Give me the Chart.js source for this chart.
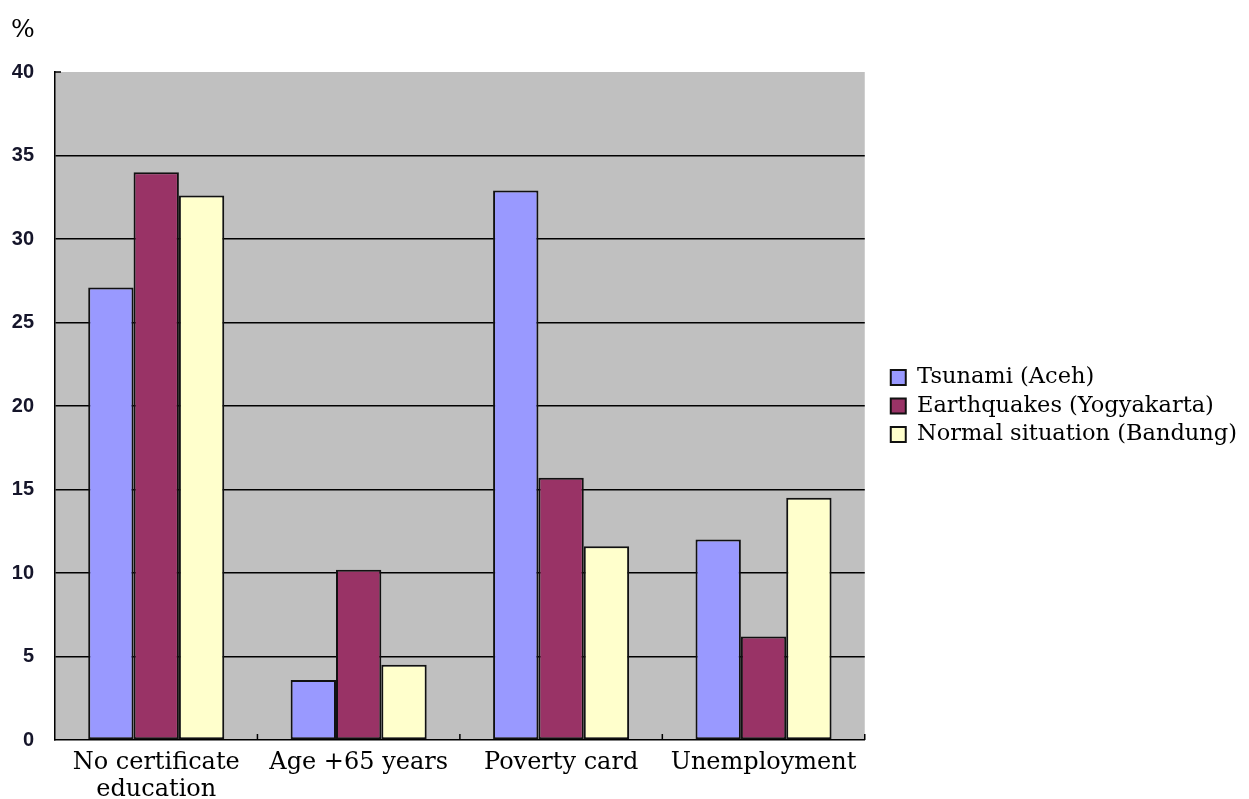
<!DOCTYPE html>
<html>
<head>
<meta charset="utf-8">
<title>Vulnerability indicators</title>
<script src="https://cdn.jsdelivr.net/npm/chart.js@4.4.1/dist/chart.umd.min.js"></script>
<style>
  html, body { margin: 0; padding: 0; background: #ffffff; }
  #wrap { width: 1249px; height: 799px; position: relative; }
</style>
</head>
<body>
<div id="wrap"><canvas id="chart"></canvas></div>
<script>
// Category labels (first one wraps onto two lines)
const categories = [
  ["No certificate", "education"],
  "Age +65 years",
  "Poverty card",
  "Unemployment"
];

// Percentages per setting
const tsunamiAceh = [27.1, 3.6, 32.9, 12.0];
const earthquakesYogyakarta = [34.0, 10.2, 15.7, 6.2];
const normalBandung = [32.6, 4.5, 11.6, 14.5];

const seriesNames = ["Tsunami (Aceh)", "Earthquakes (Yogyakarta)", "Normal situation (Bandung)"];
const seriesColors = ["#9999FF", "#993366", "#FFFFCC"];

const yTickValues = [0, 5, 10, 15, 20, 25, 30, 35, 40];
const unitLabel = "%";

const serif = "'DejaVu Serif', 'Liberation Serif', serif";

// Empty layout box that keeps a gap between the plot and the legend,
// and lets the legend take its full text width
const legendGap = {
  id: 'legendGap',
  beforeInit(chart) {
    Chart.layouts.addBox(chart, {
      position: 'right',
      weight: 500,
      fullSize: false,
      options: {},
      left: 0, top: 0, right: 0, bottom: 0, width: 0, height: 0,
      isHorizontal() { return false; },
      update(maxWidth, maxHeight) { this.width = 20; this.height = maxHeight; },
      draw() {}
    });
  },
  beforeLayout(chart) {
    const lg = chart.legend;
    if (lg && !lg._wideUpdate) {
      const orig = lg.update.bind(lg);
      lg.update = (maxWidth, maxHeight, margins) => orig(Math.max(maxWidth, 450), maxHeight, margins);
      lg._wideUpdate = true;
    }
  }
};

// Grey plot background, inward axis ticks and the unit label
const plotDecor = {
  id: 'plotDecor',
  beforeDraw(chart) {
    const { ctx, chartArea: a } = chart;
    ctx.save();
    ctx.fillStyle = '#C0C0C0';
    ctx.fillRect(a.left, a.top, a.right - a.left, a.bottom - a.top);
    ctx.restore();
  },
  afterDraw(chart) {
    const { ctx, chartArea: a, scales } = chart;
    ctx.save();
    ctx.strokeStyle = '#000';
    ctx.lineWidth = 1.5;
    // short tick at the top of the value axis
    const yTop = scales.y.getPixelForValue(40);
    ctx.beginPath();
    ctx.moveTo(a.left, yTop);
    ctx.lineTo(a.left + 6, yTop);
    ctx.stroke();
    // category separators rising from the base line
    const n = categories.length;
    const step = (a.right - a.left) / n;
    for (let i = 1; i <= n; i++) {
      const px = a.left + step * i;
      ctx.beginPath();
      ctx.moveTo(px, a.bottom);
      ctx.lineTo(px, a.bottom - 6);
      ctx.stroke();
    }
    // unit label
    ctx.fillStyle = '#000';
    ctx.font = "25px " + serif;
    ctx.textBaseline = 'alphabetic';
    ctx.textAlign = 'left';
    ctx.fillText(unitLabel, 11, 37);
    ctx.restore();
  }
};

const datasets = [tsunamiAceh, earthquakesYogyakarta, normalBandung].map((vals, i) => ({
  label: seriesNames[i],
  data: vals,
  backgroundColor: seriesColors[i],
  borderColor: '#111',
  borderWidth: 2,
  borderSkipped: false,
  barPercentage: 1.0,
  categoryPercentage: 0.672
}));

new Chart(document.getElementById('chart'), {
  type: 'bar',
  data: { labels: categories, datasets },
  plugins: [legendGap, plotDecor],
  options: {
    responsive: true,
    maintainAspectRatio: false,
    animation: false,
    layout: { padding: { top: 72, left: 0, right: 2, bottom: 0 } },
    plugins: {
      tooltip: { enabled: false },
      legend: {
        position: 'right',
        align: 'center',
        fullSize: false,
        labels: {
          boxWidth: 15,
          boxHeight: 15,
          padding: 6,
          color: '#000',
          font: { family: serif, size: 22.5 }
        }
      }
    },
    scales: {
      x: {
        afterFit(scale) { scale.height = 59; },
        grid: { display: false, drawTicks: false },
        border: { color: '#000', width: 1.5 },
        ticks: {
          color: '#000',
          padding: 10,
          maxRotation: 0,
          autoSkip: false,
          font: { family: serif, size: 24, lineHeight: 1.1 }
        }
      },
      y: {
        min: 0,
        max: 40,
        afterFit(scale) { scale.width = 55; },
        afterBuildTicks(scale) { scale.ticks = yTickValues.map(v => ({ value: v })); },
        grid: {
          drawTicks: false,
          color: ctx => (ctx.tick && (ctx.tick.value === 40 || ctx.tick.value === 0)) ? 'rgba(0,0,0,0)' : '#000',
          lineWidth: 1.5
        },
        border: { color: '#000', width: 1.5 },
        ticks: {
          color: '#15152a',
          padding: 21,
          font: { family: "'Liberation Sans', Arial, sans-serif", size: 20, weight: 'bold' }
        }
      }
    }
  }
});
</script>
</body>
</html>
